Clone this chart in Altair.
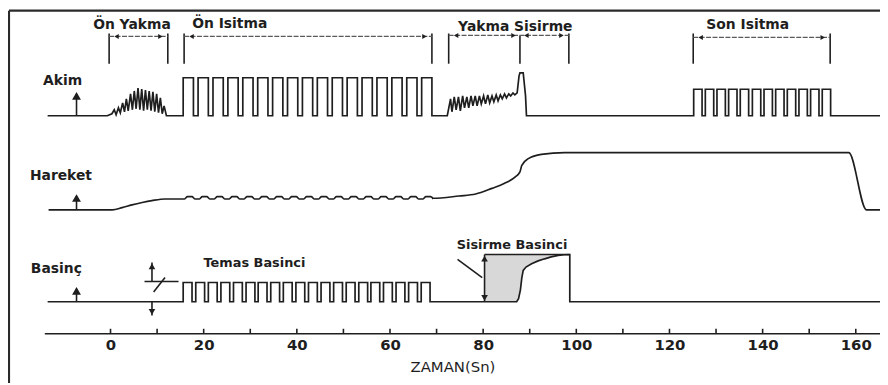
import altair as alt
import pandas as pd

# ------------------------------------------------------------------ data
x_ticks = list(range(0, 161, 10))
x_label_values = list(range(0, 161, 20))

# lane baselines (vertical offsets of the three traces)
akim_base, hareket_base, basinc_base = 220, 125, 32.3

# Akim: Ön Yakma noisy burst
on_yakma_t = [-0.7, 0.3, 0.8, 1.2, 1.7, 2.1, 2.6, 3.0, 3.4, 3.8, 4.3, 4.7, 5.1, 5.5,
              5.9, 6.3, 6.7, 7.1, 7.5, 7.9, 8.3, 8.7, 9.1, 9.5, 9.9, 10.3, 10.7,
              11.1, 11.5, 12.0]
on_yakma_lvl = [0, 2, 6, 1, 8, 3, 13, 4, 17, 5, 22, 6, 25, 7, 28, 6, 27, 5, 26, 6,
                25, 5, 24, 4, 22, 3, 18, 2, 10, 0]

# Akim: Ön Isitma pulses
on_isitma_rises = [15.6, 18.8, 22.0, 25.2, 28.4, 31.6, 34.8, 38.0, 41.2, 44.4, 47.6,
                   50.8, 54.0, 57.2, 60.4, 63.6, 66.8]
on_isitma_width = 2.2
on_isitma_level = 38.3

# Akim: Yakma Sisirme noisy ramp + spike
yakma_t = [72.3, 73.0, 73.3, 73.8, 74.2, 74.7, 75.1, 75.6, 76.0, 76.5, 76.9, 77.4,
           77.8, 78.3, 78.7, 79.2, 79.6, 80.1, 80.5, 81.0, 81.4, 81.9, 82.3, 82.8,
           83.2, 83.7, 84.1, 84.6, 85.0, 85.5, 85.9, 86.4, 86.8, 87.3, 87.7, 87.9,
           88.6, 89.1, 89.3]
yakma_lvl = [0, 17, 4, 19, 6, 19, 5, 20, 8, 19, 8, 20, 10, 20, 10, 20, 12, 20, 12,
             21, 13, 20, 14, 21, 15, 21, 17, 22, 18, 22, 20, 23, 21, 23, 40, 43.3,
             43.3, 20, 0]

# Akim: Son Isitma pulses
son_isitma_rises = [125.2, 127.7, 130.2, 132.7, 135.2, 137.8, 140.3, 142.8, 145.3,
                    147.8, 150.3, 152.8]
son_isitma_width = 1.8
son_isitma_level = 26.7

# Hareket (movement)
hareket_t_start = [-13.3, 0.4, 2.5, 4.6, 6.8, 8.9, 11.7, 15.6]
hareket_lvl_start = [0, 0, 2.3, 5, 7.4, 9.3, 11, 11]
hareket_ripple_low, hareket_ripple_high = 11, 13.3
hareket_t_end = [69.2, 74.8, 78.4, 81.9, 84.5, 86.9, 87.9, 88.3, 89.7, 92.5, 97.5,
                 158.5, 162.3, 165.2]
hareket_lvl_end = [11.7, 14, 16, 21.7, 26.5, 33.3, 38.3, 45, 51.7, 56, 57.7, 57.7,
                   0, 0]

# Basinç: Temas pulses
temas_rises = [15.6, 18.3, 21.0, 23.7, 26.4, 29.1, 31.7, 34.4, 37.1, 39.8, 42.5, 45.2,
               47.9, 50.6, 53.3, 55.9, 58.6, 61.3, 64.0, 66.7]
temas_width = 1.9
temas_level = 19.4

# Basinç: Sisirme curve
sisirme_t = [80.3, 87.2, 87.6, 88.0, 88.3, 88.6, 89.2, 90.4, 91.8, 93.2, 94.6, 96.1,
             97.4, 98.6]
sisirme_lvl = [0, 0, 3, 12, 24, 31.6, 35, 38.3, 41.2, 43.3, 45.2, 46.7, 47.4, 47.6]
sisirme_top = 47.6

# phase brackets: (start, end, horizontal level)
phases = [(-0.3, 12.3, 300), (15.8, 69.0, 300), (72.6, 98.4, 301), (125.1, 154.5, 299)]
phase_divider = 87.9
bracket_bottom = 272.5
bracket_top = 303

phase_labels = ["Ön Yakma", "Ön Isitma", "Yakma Sisirme", "Son Isitma"]
phase_label_t = [4.6, 25.6, 86.9, 136.8]
phase_label_y = [312, 313, 310, 312]

lane_labels = ["Akim", "Hareket", "Basinç"]
lane_label_t = [-14.5, -17.3, -17.1]
lane_label_y = [255, 159, 65]
lane_arrow_t = -7.3
lane_arrow_len = [25, 17, 16]

note_labels = ["Temas Basinci", "Sisirme Basinci"]
note_label_t = [30.9, 86.2]
note_label_y = [71, 90]

# ------------------------------------------------------------------ tables
def pulses(rises, width, level):
    pts = []
    for r in rises:
        pts += [(r, 0), (r, level), (r + width, level), (r + width, 0)]
    return pts


akim_pts = [(-13.5, 0)] + list(zip(on_yakma_t, on_yakma_lvl))
akim_pts += pulses(on_isitma_rises, on_isitma_width, on_isitma_level)
akim_pts += list(zip(yakma_t, yakma_lvl))
akim_pts += pulses(son_isitma_rises, son_isitma_width, son_isitma_level)
akim_pts += [(165.2, 0)]

basinc_pts = [(-13.5, 0)]
basinc_pts += pulses(temas_rises, temas_width, temas_level)
basinc_pts += list(zip(sisirme_t[1:], sisirme_lvl[1:]))
basinc_pts += [(sisirme_t[-1], 0), (165.2, 0)]

hareket_pts = list(zip(hareket_t_start, hareket_lvl_start))
for r in on_isitma_rises:
    hareket_pts += [(r + 0.3, hareket_ripple_low), (r + 0.9, hareket_ripple_high),
                    (r + on_isitma_width - 0.3, hareket_ripple_high),
                    (r + on_isitma_width + 0.3, hareket_ripple_low)]
hareket_pts += list(zip(hareket_t_end, hareket_lvl_end))


def lane(name, pts, base):
    return pd.DataFrame({"t": [p[0] for p in pts],
                         "y": [base + p[1] for p in pts],
                         "i": list(range(len(pts))),
                         "series": name})


lines_df = pd.concat([lane("Akim", akim_pts, akim_base),
                      lane("Basinç", basinc_pts, basinc_base)])
hareket_df = lane("Hareket", hareket_pts, hareket_base)

area_df = pd.DataFrame({"t": sisirme_t,
                        "y": [basinc_base + sisirme_top] * len(sisirme_t),
                        "y2": [basinc_base + v for v in sisirme_lvl]})

# dark rules
dark = []
for s, e, h in phases:
    dark += [(s, s, bracket_bottom, bracket_top), (e, e, bracket_bottom, bracket_top)]
dark += [(phase_divider, phase_divider, bracket_bottom, 301)]
# sisirme marker
dark += [(sisirme_t[0], sisirme_t[0], basinc_base, basinc_base + sisirme_top),
         (sisirme_t[0], sisirme_t[-1], basinc_base + sisirme_top, basinc_base + sisirme_top),
         (74.5, 79.8, 75, 56.7)]
# temas marker
dark += [(8.9, 8.9, 72, 52.7), (7.3, 14.6, 52.7, 52.7), (9.25, 11.7, 42, 56.7),
         (8.9, 8.9, basinc_base, 18.3)]
# lane arrows
for b, ln in zip([akim_base, hareket_base, basinc_base], lane_arrow_len):
    dark += [(lane_arrow_t, lane_arrow_t, b, b + ln - 3)]
# axis ticks
for v in x_ticks:
    dark += [(v, v, 0, 5)]
dark_df = pd.DataFrame(dark, columns=["t", "t2", "y", "y2"])

grey_df = pd.DataFrame([(s, e, h, h) for s, e, h in phases],
                       columns=["t", "t2", "y", "y2"])

heavy_df = pd.DataFrame([(-14.1, 165.2, 0, 0)], columns=["t", "t2", "y", "y2"])
frame_df = pd.DataFrame([(-21.8, 165.2, 326, 326), (-21.8, -21.8, 326, -55)],
                        columns=["t", "t2", "y", "y2"])

heads = []
for (s, e, h) in phases:
    heads += [(s + 1.6, h, "triangle-left"), (e - 1.6, h, "triangle-right")]
heads += [(phase_divider - 1.4, 301, "triangle-right"),
          (phase_divider + 1.4, 301, "triangle-left")]
small_heads_df = pd.DataFrame(heads, columns=["t", "y", "shape"])

lane_heads = []
for b, ln in zip([akim_base, hareket_base, basinc_base], lane_arrow_len):
    lane_heads += [(lane_arrow_t, b + ln - 5, "triangle-up")]
lane_heads_df = pd.DataFrame(lane_heads, columns=["t", "y", "shape"])

mid_heads = [(sisirme_t[0], basinc_base + sisirme_top - 4, "triangle-up"),
             (sisirme_t[0], basinc_base + 4, "triangle-down"),
             (8.9, 68, "triangle-up"), (8.9, 22, "triangle-down")]
mid_heads_df = pd.DataFrame(mid_heads, columns=["t", "y", "shape"])

phase_text_df = pd.DataFrame({"t": phase_label_t, "y": phase_label_y, "text": phase_labels})
lane_text_df = pd.DataFrame({"t": lane_label_t, "y": lane_label_y, "text": lane_labels})
note_text_df = pd.DataFrame({"t": note_label_t, "y": note_label_y, "text": note_labels})

# ------------------------------------------------------------------ chart
INK = "#1e1e1e"
XS = alt.Scale(domain=[-22.01, 165.2], nice=False, zero=False)
YS = alt.Scale(domain=[0, 327], nice=False, zero=False)
XA = alt.Axis(values=x_label_values, domain=False, ticks=False, grid=False,
              labelPadding=4, labelFont="DejaVu Sans", labelFontSize=15,
              labelFontWeight="bold", labelColor=INK, labelFlush=False,
              labelOverlap=False, title="ZAMAN(Sn)", titleX=448.5, titleY=33,
              titleBaseline="middle", titleAlign="center", titleFont="DejaVu Sans",
              titleFontSize=15, titleFontWeight="normal", titleColor=INK)


def X():
    return alt.X("t:Q", scale=XS, axis=XA)


def Y():
    return alt.Y("y:Q", scale=YS, axis=None)


area = alt.Chart(area_df).mark_area(color="#d8d8d8", opacity=1).encode(
    x=X(), y=Y(), y2="y2:Q")

traces = alt.Chart(lines_df).mark_line(color=INK, strokeWidth=1.7).encode(
    x=X(), y=Y(), detail="series:N", order="i:Q")

hareket = alt.Chart(hareket_df).mark_line(color=INK, strokeWidth=1.7,
                                          interpolate="monotone").encode(
    x=X(), y=Y(), order="i:Q")


def rules(df, color, width, dash=None):
    kw = dict(color=color, strokeWidth=width)
    if dash:
        kw["strokeDash"] = dash
    return alt.Chart(df).mark_rule(**kw).encode(x=X(), x2="t2:Q", y=Y(), y2="y2:Q")


dark_rules = rules(dark_df, INK, 1.6)
grey_rules = rules(grey_df, "#5a5a5a", 1.2, [5, 1.5])
axis_line = rules(heavy_df, INK, 1.6)
frame = rules(frame_df, "#2a2a2a", 2.2)


def heads_layer(df, size):
    return alt.Chart(df).mark_point(filled=True, color=INK, size=size, opacity=1).encode(
        x=X(), y=Y(), shape=alt.Shape("shape:N", scale=None))


small_heads = heads_layer(small_heads_df, 26)
lane_heads_layer = heads_layer(lane_heads_df, 80)
mid_heads_layer = heads_layer(mid_heads_df, 45)

phase_text = alt.Chart(phase_text_df).mark_text(
    font="DejaVu Sans", fontSize=14, fontWeight="bold", color=INK,
    align="center", baseline="middle").encode(x=X(), y=Y(), text="text:N")
lane_text = alt.Chart(lane_text_df).mark_text(
    font="DejaVu Sans", fontSize=14, fontWeight="bold", color=INK,
    align="left", baseline="middle").encode(x=X(), y=Y(), text="text:N")
note_text = alt.Chart(note_text_df).mark_text(
    font="DejaVu Sans", fontSize=13, fontWeight="bold", color=INK,
    align="center", baseline="middle").encode(x=X(), y=Y(), text="text:N")

chart = alt.layer(
    area, traces, hareket, dark_rules, grey_rules, axis_line, frame,
    small_heads, lane_heads_layer, mid_heads_layer, phase_text, lane_text, note_text
).properties(
    width=880, height=327,
    autosize=alt.AutoSizeParams(type="none"),
    padding={"left": 0, "top": 0, "right": 0, "bottom": 48},
    background="white",
).configure_view(stroke=None)

chart.save("out.html", embed_options={"renderer": "svg", "actions": False})
